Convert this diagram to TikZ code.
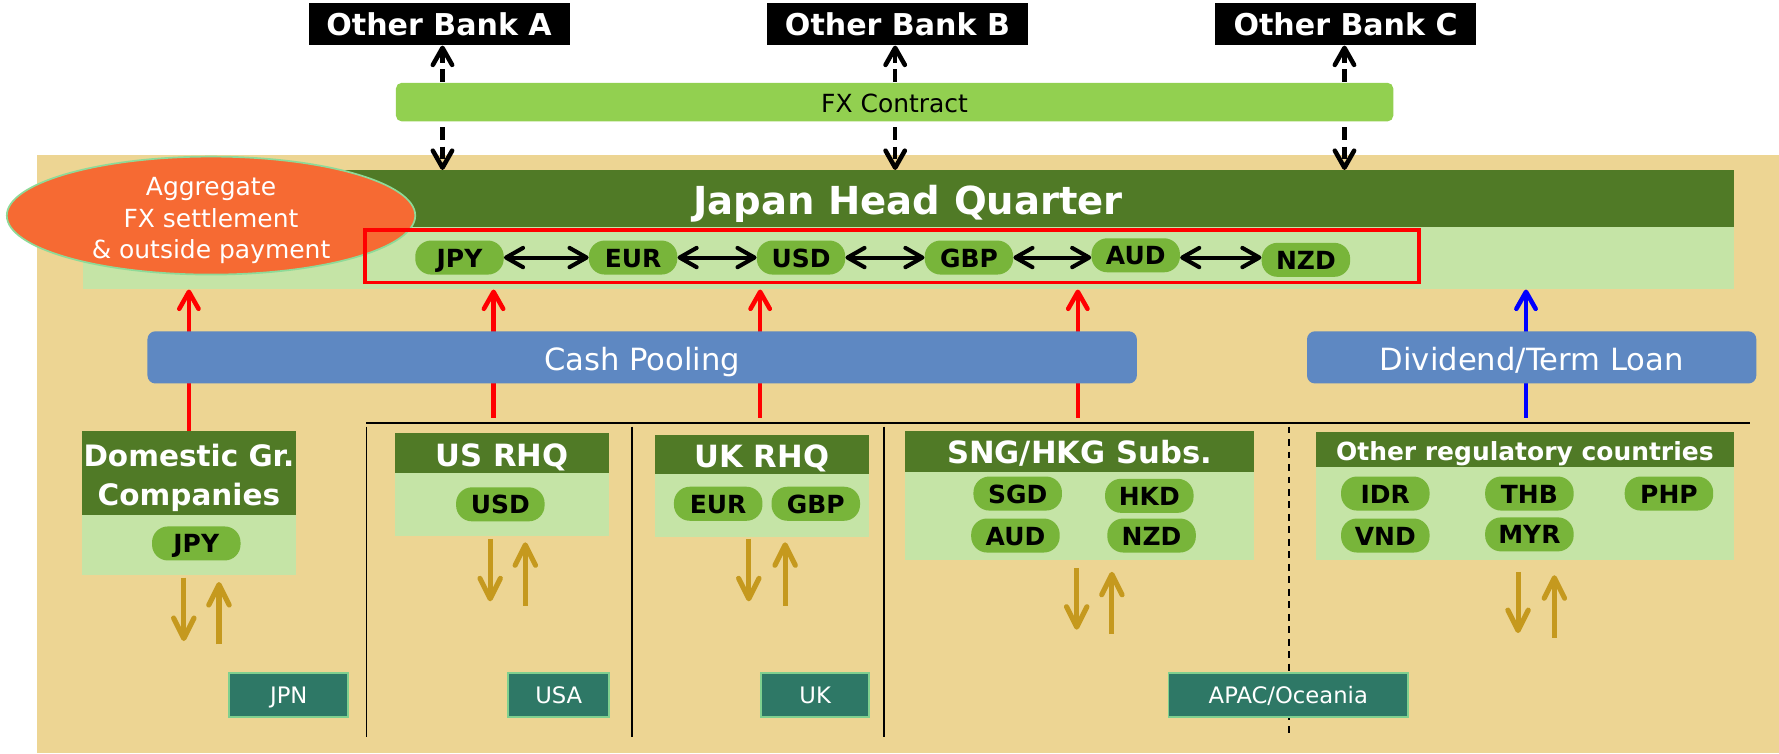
\documentclass[tikz,border=0pt]{standalone}
\usepackage{fontspec}
\setmainfont{DejaVu Sans}
\usetikzlibrary{arrows.meta,shapes.geometric}
\definecolor{tanc}{HTML}{EDD593}
\definecolor{darkg}{HTML}{507A26}
\definecolor{lightg}{HTML}{C5E4A6}
\definecolor{pillg}{HTML}{78B53A}
\definecolor{fxg}{HTML}{92D050}
\definecolor{bluebar}{HTML}{5E88C2}
\definecolor{orangec}{HTML}{F66A33}
\definecolor{ellb}{HTML}{8EDA98}
\definecolor{tealc}{HTML}{2E7866}
\definecolor{tealb}{HTML}{7FD08F}
\definecolor{brownc}{HTML}{C5991E}
\newcommand\fsz[2]{\fontsize{#1}{#2}\selectfont}
\pgfdeclarelayer{back}\pgfdeclarelayer{mid}\pgfsetlayers{back,mid,main}
\begin{document}
\begin{tikzpicture}[x=1pt,y=-1pt,
  tb/.style={text height=#1,text depth=0pt},
  bank/.style={fill=black,text=white,font=\bfseries\fsz{26.5}{31},minimum width=230pt,minimum height=37pt,inner sep=0pt,tb=20.4pt},
  pill/.style={fill=pillg,rounded corners=14pt,minimum width=78pt,minimum height=30pt,inner sep=0pt,font=\bfseries\fsz{22}{26},text=black,tb=16.8pt},
  ghead/.style={fill=darkg,text=white,inner sep=0pt,font=\bfseries\fsz{27}{32}},
  gbody/.style={fill=lightg,inner sep=0pt},
  bar/.style={fill=bluebar,rounded corners=7pt,text=white,inner sep=0pt,minimum height=46pt,font=\fsz{27}{32},tb=23.7pt},
  region/.style={fill=tealc,draw=tealb,line width=1.5pt,text=white,inner sep=0pt,minimum height=39pt,font=\fsz{20}{24},tb=15.6pt},
  tip/.style={Straight Barb[length=15pt,width=17pt,round]},
  dasharrow/.style={line width=4pt,dash pattern=on 11pt off 6pt,{Straight Barb[length=15pt,width=17pt,round]}-{Straight Barb[length=15pt,width=17pt,round]}},
  dblarrow/.style={line width=3.6pt,{Straight Barb[length=15pt,width=17pt,round]}-{Straight Barb[length=15pt,width=17pt,round]}},
  uparrow/.style={line width=4pt,-{Straight Barb[length=15pt,width=17pt,round]}},
  brarrow/.style={line width=4.5pt,draw=brownc,-{Straight Barb[length=18pt,width=18pt,round]}},
  sepline/.style={line width=1.6pt,draw=black}
]
\useasboundingbox (0,0) rectangle (1568,664);
\begin{pgfonlayer}{back}
\fill[tanc] (33,137) rectangle (1568,664);
\end{pgfonlayer}

% banks
\node[bank] (bankA) at (387,21.5) {Other Bank A};
\node[bank] (bankB) at (791,21.5) {Other Bank B};
\node[bank] (bankC) at (1186,21.5) {Other Bank C};

% FX contract
\node[fill=fxg,rounded corners=5pt,minimum width=879pt,minimum height=34pt,inner sep=0pt,font=\fsz{22}{26},tb=18pt] (fx) at (788.5,90) {FX Contract};

% HQ
\node[ghead,minimum width=1455pt,minimum height=50pt,font=\bfseries\fsz{34}{40},tb=28.8pt] (hqhead) at (800.5,175) {Japan Head Quarter};
\node[gbody,minimum width=1455pt,minimum height=55pt] (hqbody) at (800.5,227.5) {};
\node[ellipse,fill=orangec,draw=ellb,line width=1.5pt,minimum width=360pt,minimum height=104pt,inner sep=0pt] (agg) at (186,190) {};
\node[text=white,align=center,font=\fsz{22}{28},inner sep=0pt] (aggtxt) at (186,194.5) {Aggregate\\FX settlement\\\& outside payment};
\node[draw=red,line width=3.5pt,minimum width=929pt,minimum height=46pt,inner sep=0pt] (redbox) at (786.5,226) {};

\node[pill] (hjpy) at (405,227) {JPY};
\node[pill] (heur) at (558,227) {EUR};
\node[pill] (husd) at (706,227) {USD};
\node[pill] (hgbp) at (854,227) {GBP};
\node[pill] (haud) at (1001,225) {AUD};
\node[pill] (hnzd) at (1151,229) {NZD};
\draw[dblarrow] (hjpy) -- (heur);
\draw[dblarrow] (heur) -- (husd);
\draw[dblarrow] (husd) -- (hgbp);
\draw[dblarrow] (hgbp.east) -- (hgbp.east -| haud.west);
\draw[dblarrow] (haud.east |- hgbp.east) -- (hgbp.east -| hnzd.west);

% bars
\node[bar,minimum width=872pt] (cash) at (566,315) {Cash Pooling};
\node[bar,minimum width=396pt] (div) at (1350,315) {Dividend/Term Loan};

% separators
\coordinate (sepL) at (323,373);
\coordinate (sepR) at (1542,373);
\draw[line width=2pt] (sepL) -- (sepR);
\coordinate (v1t) at (323,376); \coordinate (v1b) at (323,650);
\coordinate (v2t) at (557,376); \coordinate (v2b) at (557,650);
\coordinate (v3t) at (779,376); \coordinate (v3b) at (779,650);
\coordinate (v4t) at (1136,376); \coordinate (v4b) at (1136,650);
\draw[sepline] (v1t) -- (v1b);
\draw[sepline] (v2t) -- (v2b);
\draw[sepline] (v3t) -- (v3b);
\draw[line width=1.2pt,dash pattern=on 6pt off 5pt] (v4t) -- (v4b);

% groups
\node[ghead,minimum width=189pt,minimum height=74pt] (domh) at (166.5,417) {};
\node[text=white,align=center,font=\bfseries\fsz{26}{34},inner sep=0pt] (domtxt) at (166.5,421) {Domestic Gr.\\Companies};
\node[gbody,minimum width=189pt,minimum height=53pt] (domb) at (166.5,480.5) {};
\node[pill] (djpy) at (173,479) {JPY};

\node[ghead,minimum width=189pt,minimum height=35pt,tb=22.7pt] (ush) at (442.5,399.5) {US RHQ};
\node[gbody,minimum width=189pt,minimum height=55pt] (usb) at (442.5,444.5) {};
\node[pill] (uusd) at (441,444.5) {USD};

\node[ghead,minimum width=189pt,minimum height=35pt,tb=22.7pt] (ukh) at (671.5,400.5) {UK RHQ};
\node[gbody,minimum width=189pt,minimum height=55pt] (ukb) at (671.5,445.5) {};
\node[pill] (keur) at (633,444) {EUR};
\node[pill] (kgbp) at (719,444) {GBP};

\node[ghead,minimum width=307pt,minimum height=36pt,tb=21.7pt] (sngh) at (951.5,398) {SNG/HKG Subs.};
\node[gbody,minimum width=307pt,minimum height=78pt] (sngb) at (951.5,455) {};
\node[pill] (ssgd) at (897,435) {SGD};
\node[pill] (shkd) at (1013,437) {HKD};
\node[pill] (saud) at (895,472) {AUD};
\node[pill] (snzd) at (1015,472) {NZD};

\node[ghead,minimum width=368pt,minimum height=31pt,font=\bfseries\fsz{22}{26},tb=19pt] (othh) at (1344,396.5) {Other regulatory countries};
\node[gbody,minimum width=368pt,minimum height=82pt] (othb) at (1344,453) {};
\node[pill] (oidr) at (1221,435) {IDR};
\node[pill] (othb1) at (1348,435) {THB};
\node[pill] (ophp) at (1471,435) {PHP};
\node[pill] (ovnd) at (1221,472) {VND};
\node[pill] (omyr) at (1348,471) {MYR};

% regions
\node[region,minimum width=105pt] (rjpn) at (254.5,612.5) {JPN};
\node[region,minimum width=89pt] (rusa) at (492.5,612.5) {USA};
\node[region,minimum width=95pt] (ruk) at (718.5,612.5) {UK};
\node[region,minimum width=211pt] (rapac) at (1135.5,612.5) {APAC/Oceania};

% arrows behind
\coordinate (dA) at (390,0);
\coordinate (dB) at (789,0);
\coordinate (dC) at (1185,0);
\coordinate (r2) at (435,368);
\coordinate (r3) at (670,368);
\coordinate (r4) at (950,368);
\coordinate (b1) at (1345,368);
\begin{pgfonlayer}{mid}
\draw[dasharrow] (dA |- bankA.south) -- (dA |- hqhead.north);
\draw[dasharrow] (dB |- bankB.south) -- (dB |- hqhead.north);
\draw[dasharrow] (dC |- bankC.south) -- (dC |- hqhead.north);
\draw[uparrow,red] (domh.north) -- (domh.north |- hqbody.south);
\draw[uparrow,red] (r2) -- (r2 |- hqbody.south);
\draw[uparrow,red] (r3) -- (r3 |- hqbody.south);
\draw[uparrow,red] (r4) -- (r4 |- hqbody.south);
\draw[uparrow,blue] (b1) -- (b1 |- hqbody.south);
\end{pgfonlayer}

% brown arrows
\coordinate (a1s) at (162,509); \coordinate (a1e) at (162,565);
\coordinate (a2s) at (193,568); \coordinate (a2e) at (193,513);
\coordinate (a3s) at (432,475); \coordinate (a3e) at (432,530);
\coordinate (a4s) at (463,534); \coordinate (a4e) at (463,478);
\coordinate (a5s) at (660,475); \coordinate (a5e) at (660,530);
\coordinate (a6s) at (692,534); \coordinate (a6e) at (692,478);
\coordinate (a7s) at (949,501); \coordinate (a7e) at (949,555);
\coordinate (a8s) at (980,559); \coordinate (a8e) at (980,504);
\coordinate (a9s) at (1338,504); \coordinate (a9e) at (1338,558);
\coordinate (a10s) at (1370,562); \coordinate (a10e) at (1370,507);
\draw[brarrow] (a1s) -- (a1e);
\draw[brarrow] (a2s) -- (a2e);
\draw[brarrow] (a3s) -- (a3e);
\draw[brarrow] (a4s) -- (a4e);
\draw[brarrow] (a5s) -- (a5e);
\draw[brarrow] (a6s) -- (a6e);
\draw[brarrow] (a7s) -- (a7e);
\draw[brarrow] (a8s) -- (a8e);
\draw[brarrow] (a9s) -- (a9e);
\draw[brarrow] (a10s) -- (a10e);
\end{tikzpicture}
\end{document}
